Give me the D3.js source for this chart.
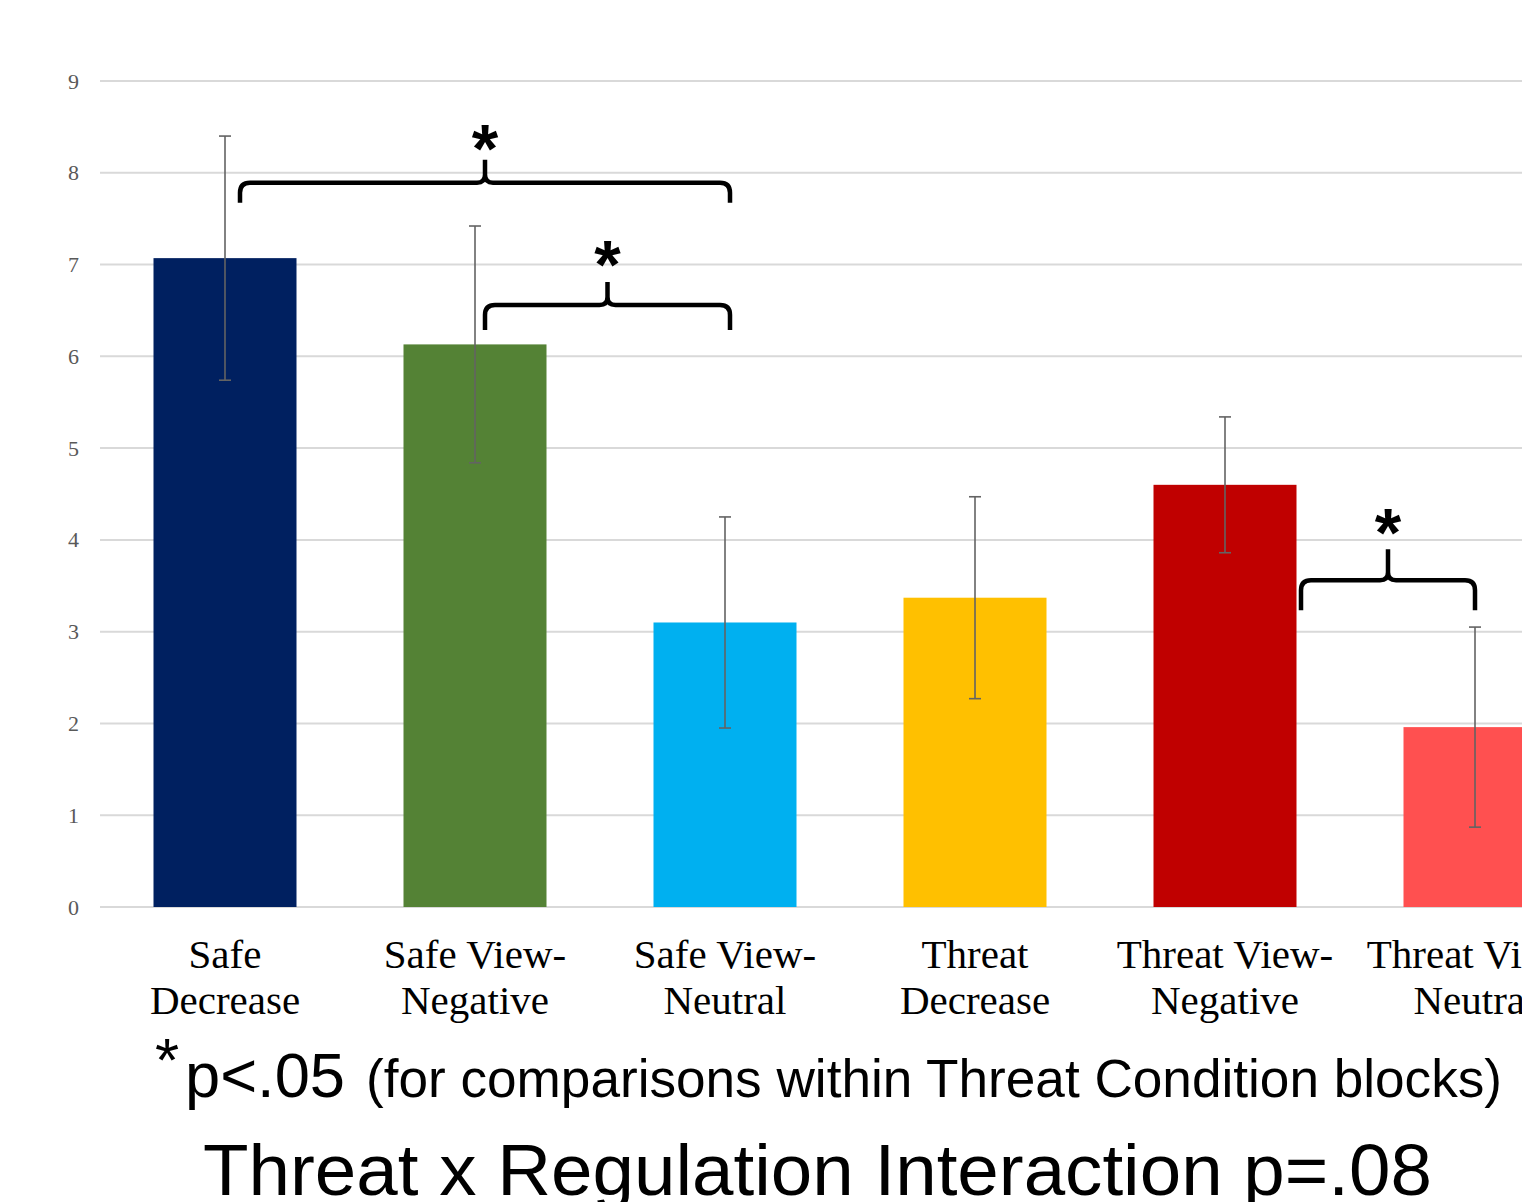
<!DOCTYPE html>
<html>
<head>
<meta charset="utf-8">
<script src="https://cdn.jsdelivr.net/npm/d3@7"></script>
<style>
  html, body { margin: 0; padding: 0; background: #fff; overflow: hidden; }
  svg { display: block; }
</style>
</head>
<body>
<svg id="chart" width="1522" height="1202"></svg>
<script>
// ---- data ----
const categories = ["Safe Decrease", "Safe View-Negative", "Safe View-Neutral",
                    "Threat Decrease", "Threat View-Negative", "Threat View-Neutral"];
const labelLines = [["Safe", "Decrease"], ["Safe View-", "Negative"], ["Safe View-", "Neutral"],
                    ["Threat", "Decrease"], ["Threat View-", "Negative"], ["Threat View-", "Neutral"]];
const means  = [7.07, 6.13, 3.10, 3.37, 4.60, 1.96];
const errors = [1.33, 1.29, 1.15, 1.10, 0.74, 1.09];
const barColors = ["#002060", "#548235", "#00B0F0", "#FFC000", "#C00000", "#FF5050"];
const yTicks = [0, 1, 2, 3, 4, 5, 6, 7, 8, 9];
// significance braces: [from category, to category, level]
const braceFrom = [0, 1, 4];
const braceTo   = [2, 2, 5];
const braceLevel = [7.89, 6.56, 3.56];
const footStar = "*";
const footMain = "p<.05";
const footParen = "(for comparisons within Threat Condition blocks)";
const bottomTitle = "Threat x Regulation Interaction p=.08";

// ---- layout ----
const svg = d3.select("#chart");
const x = d3.scaleBand().domain(categories).range([100, 1600]).paddingInner(0.428).paddingOuter(0.214);
const y = d3.scaleLinear().domain([0, 9]).range([907, 81]);
const xc = c => x(c) + x.bandwidth() / 2;

// gridlines
svg.append("g").selectAll("line").data(yTicks).join("line")
  .attr("x1", 100).attr("x2", 1522)
  .attr("y1", d => y(d)).attr("y2", d => y(d))
  .attr("stroke", "#d9d9d9").attr("stroke-width", 2);

// y axis labels
const yAxis = d3.axisLeft(y).tickValues(yTicks).tickSize(0).tickPadding(0).tickFormat(d3.format("d"));
const ga = svg.append("g").attr("transform", "translate(79,0)").call(yAxis);
ga.select(".domain").remove();
ga.selectAll("text").attr("font-family", "'Liberation Serif', 'Times New Roman', serif")
  .attr("font-size", 22).attr("fill", "#595959");

// bars
svg.append("g").selectAll("rect").data(categories).join("rect")
  .attr("x", d => x(d)).attr("width", x.bandwidth())
  .attr("y", (d, i) => y(means[i])).attr("height", (d, i) => y(0) - y(means[i]))
  .attr("fill", (d, i) => barColors[i]);

// error bars
const eg = svg.append("g").attr("stroke", "#636363").attr("stroke-width", 1.6);
categories.forEach((c, i) => {
  const cx = xc(c), top = y(means[i] + errors[i]), bot = y(means[i] - errors[i]);
  eg.append("line").attr("x1", cx).attr("x2", cx).attr("y1", top).attr("y2", bot);
  eg.append("line").attr("x1", cx - 6).attr("x2", cx + 6).attr("y1", top).attr("y2", top);
  eg.append("line").attr("x1", cx - 6).attr("x2", cx + 6).attr("y1", bot).attr("y2", bot);
});

// category labels
const lg = svg.append("g").attr("font-family", "'Liberation Serif', 'Times New Roman', serif")
  .attr("font-size", 41).attr("fill", "#000").attr("text-anchor", "middle");
categories.forEach((c, i) => {
  labelLines[i].forEach((t, k) => {
    lg.append("text").attr("x", xc(c)).attr("y", 968 + k * 46).text(t);
  });
});

// braces
const braceX1 = [15, 10, 76];   // offsets from category center
const braceX2 = [5, 5, 0];
const braceDrop = [20, 25, 30];
const braceTip = [23, 23, 31];
const starGap = [28, 34, 33];
const bg = svg.append("g");
braceFrom.forEach((f, i) => {
  const x1 = xc(categories[f]) + braceX1[i];
  const x2 = xc(categories[braceTo[i]]) + braceX2[i];
  const y0 = y(braceLevel[i]);
  const xm = (x1 + x2) / 2;
  const r = 10, r2 = 8, h = braceDrop[i], tip = braceTip[i];
  const p = d3.path();
  p.moveTo(x1, y0 + h);
  p.lineTo(x1, y0 + r);
  p.quadraticCurveTo(x1, y0, x1 + r, y0);
  p.lineTo(xm - r2, y0);
  p.quadraticCurveTo(xm, y0, xm, y0 - r2);
  p.lineTo(xm, y0 - tip);
  p.moveTo(xm, y0 - r2);
  p.quadraticCurveTo(xm, y0, xm + r2, y0);
  p.lineTo(x2 - r, y0);
  p.quadraticCurveTo(x2, y0, x2, y0 + r);
  p.lineTo(x2, y0 + h);
  bg.append("path").attr("d", p.toString()).attr("fill", "none")
    .attr("stroke", "#000").attr("stroke-width", 4.5);
  bg.append("text").attr("x", xm).attr("y", y0 - tip - starGap[i] + 40)
    .attr("text-anchor", "middle").attr("font-family", "'Liberation Sans', Arial, sans-serif")
    .attr("font-weight", "bold").attr("font-size", 68).text("*");
});

// footnote
const fg = svg.append("g").attr("font-family", "'Liberation Sans', Arial, sans-serif").attr("fill", "#000");
fg.append("text").attr("x", 167).attr("y", 1081).attr("text-anchor", "middle")
  .attr("font-size", 62).text(footStar);
fg.append("text").attr("x", 185).attr("y", 1097).attr("font-size", 63)
  .attr("textLength", 160).attr("lengthAdjust", "spacingAndGlyphs").text(footMain);
fg.append("text").attr("x", 366).attr("y", 1097).attr("font-size", 53)
  .attr("textLength", 1136).attr("lengthAdjust", "spacingAndGlyphs").text(footParen);
fg.append("text").attr("x", 203).attr("y", 1195).attr("font-size", 72)
  .attr("textLength", 1229).attr("lengthAdjust", "spacingAndGlyphs").text(bottomTitle);
</script>
</body>
</html>
